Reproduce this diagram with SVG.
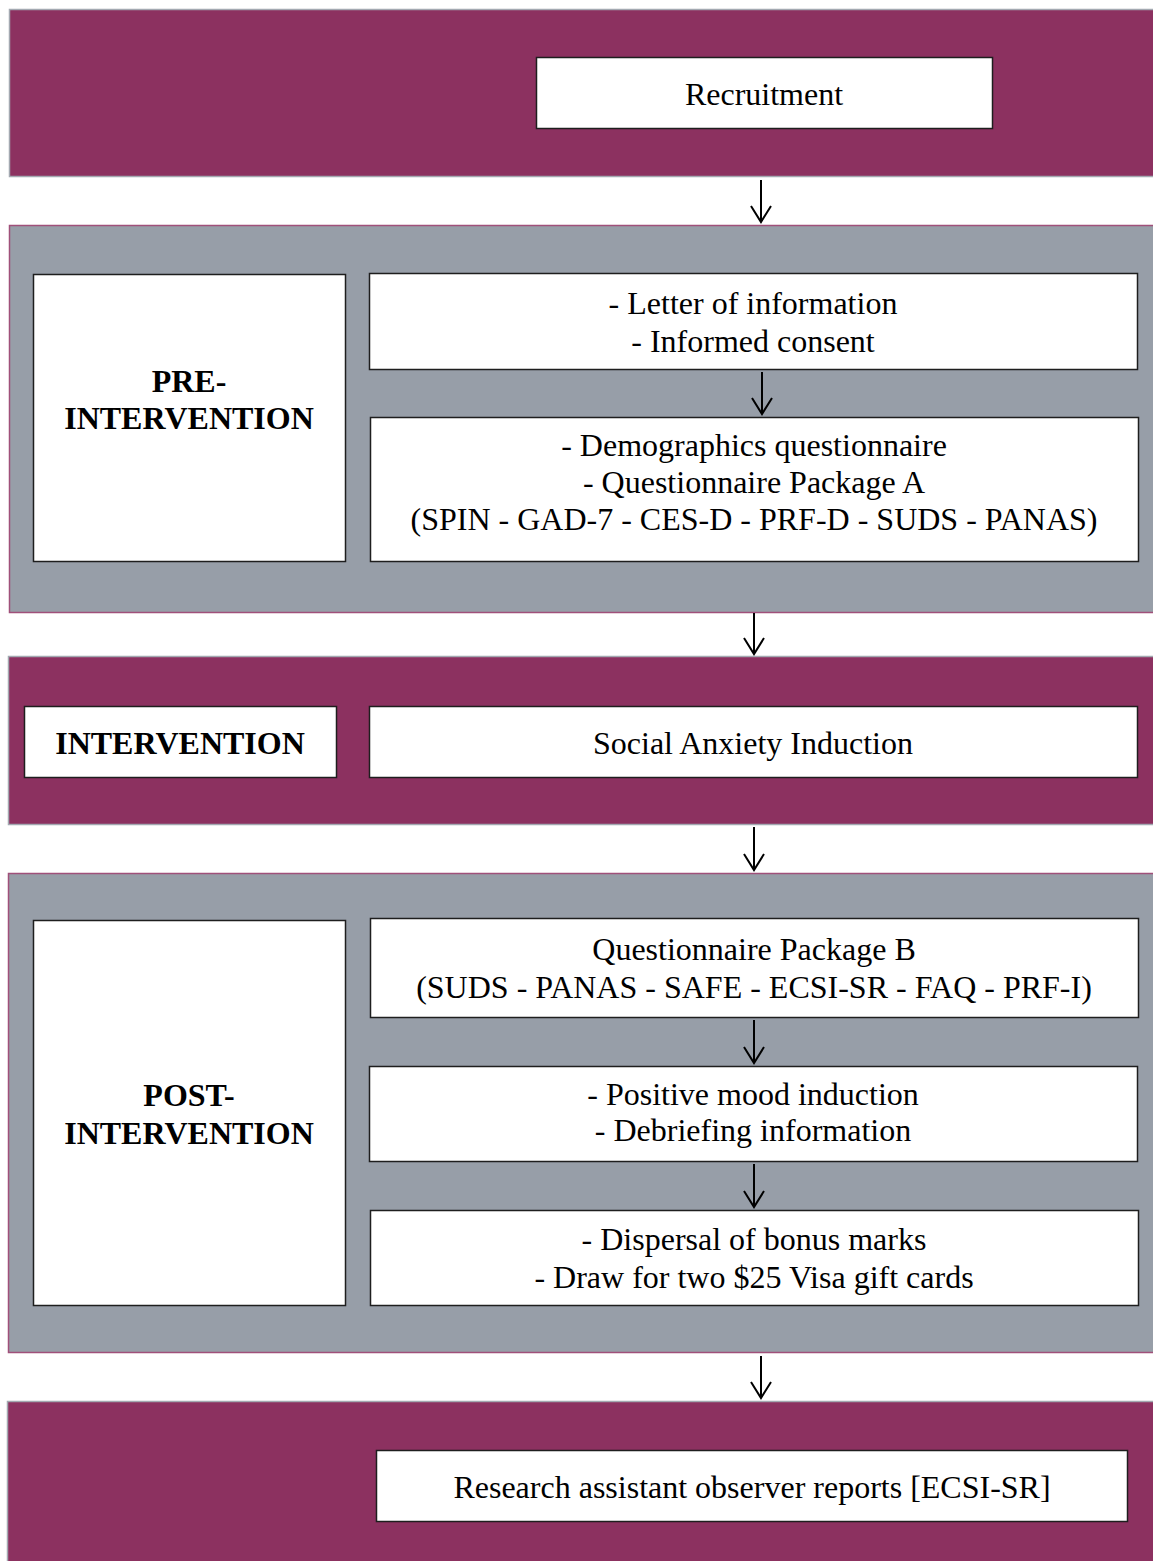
<svg xmlns="http://www.w3.org/2000/svg" width="1153" height="1561" viewBox="0 0 1153 1561">
<style>
.bp{fill:#8c3160;stroke:#a3a9b1;stroke-width:1.5}
.bg{fill:#979ea8;stroke:#a0507a;stroke-width:1.5}
.box{fill:#fff;stroke:#1e1e1e;stroke-width:1.5}
.t{font-family:"Liberation Serif","Times New Roman",serif;font-size:32px;fill:#000;text-anchor:middle}
.b{font-weight:bold}
.ar{fill:none;stroke:#000;stroke-width:2}
</style>
<rect width="1153" height="1561" fill="#fff"/>
<g id="bands">
<rect class="bp" x="9.5" y="9.5" width="1150" height="167"/>
<rect class="bg" x="9.5" y="225.5" width="1150" height="387"/>
<rect class="bp" x="8.5" y="656.5" width="1150" height="168"/>
<rect class="bg" x="8.5" y="873.5" width="1150" height="479"/>
<rect class="bp" x="7.5" y="1401.5" width="1150" height="170"/>
</g>
<g id="recruitment"><rect class="box" x="536.5" y="57.5" width="456" height="71"/><text class="t" x="764" y="105">Recruitment</text></g>
<g id="pre-label"><rect class="box" x="33.5" y="274.5" width="312" height="287"/><text class="t b" x="189" y="392">PRE-</text><text class="t b" x="189" y="429">INTERVENTION</text></g>
<g id="letter"><rect class="box" x="369.5" y="273.5" width="768" height="96"/><text class="t" x="753" y="314">- Letter of information</text><text class="t" x="753" y="352">- Informed consent</text></g>
<g id="demographics"><rect class="box" x="370.5" y="417.5" width="768" height="144"/><text class="t" x="754" y="456">- Demographics questionnaire</text><text class="t" x="754" y="493">- Questionnaire Package A</text><text class="t" x="754" y="530">(SPIN - GAD-7 - CES-D - PRF-D - SUDS - PANAS)</text></g>
<g id="intervention-label"><rect class="box" x="24.5" y="706.5" width="312" height="71"/><text class="t b" x="180" y="754">INTERVENTION</text></g>
<g id="induction"><rect class="box" x="369.5" y="706.5" width="768" height="71"/><text class="t" x="753" y="754">Social Anxiety Induction</text></g>
<g id="post-label"><rect class="box" x="33.5" y="920.5" width="312" height="385"/><text class="t b" x="189" y="1106">POST-</text><text class="t b" x="189" y="1144">INTERVENTION</text></g>
<g id="package-b"><rect class="box" x="370.5" y="918.5" width="768" height="99"/><text class="t" x="754" y="960">Questionnaire Package B</text><text class="t" x="754" y="998">(SUDS - PANAS - SAFE - ECSI-SR - FAQ - PRF-I)</text></g>
<g id="mood"><rect class="box" x="369.5" y="1066.5" width="768" height="95"/><text class="t" x="753" y="1105">- Positive mood induction</text><text class="t" x="753" y="1141">- Debriefing information</text></g>
<g id="dispersal"><rect class="box" x="370.5" y="1210.5" width="768" height="95"/><text class="t" x="754" y="1250">- Dispersal of bonus marks</text><text class="t" x="754" y="1288">- Draw for two $25 Visa gift cards</text></g>
<g id="observer"><rect class="box" x="376.5" y="1450.5" width="751" height="71"/><text class="t" x="752" y="1498">Research assistant observer reports [ECSI-SR]</text></g>
<g id="connectors">
<path class="ar" d="M761 180V222M751 206L761 222L771 206"/>
<path class="ar" d="M762 372V414M752 398L762 414L772 398"/>
<path class="ar" d="M754 613V654M744 638L754 654L764 638"/>
<path class="ar" d="M754 827V870M744 854L754 870L764 854"/>
<path class="ar" d="M754 1020V1063M744 1047L754 1063L764 1047"/>
<path class="ar" d="M754 1164V1207M744 1191L754 1207L764 1191"/>
<path class="ar" d="M761 1356V1398M751 1382L761 1398L771 1382"/>
</g>
</svg>
